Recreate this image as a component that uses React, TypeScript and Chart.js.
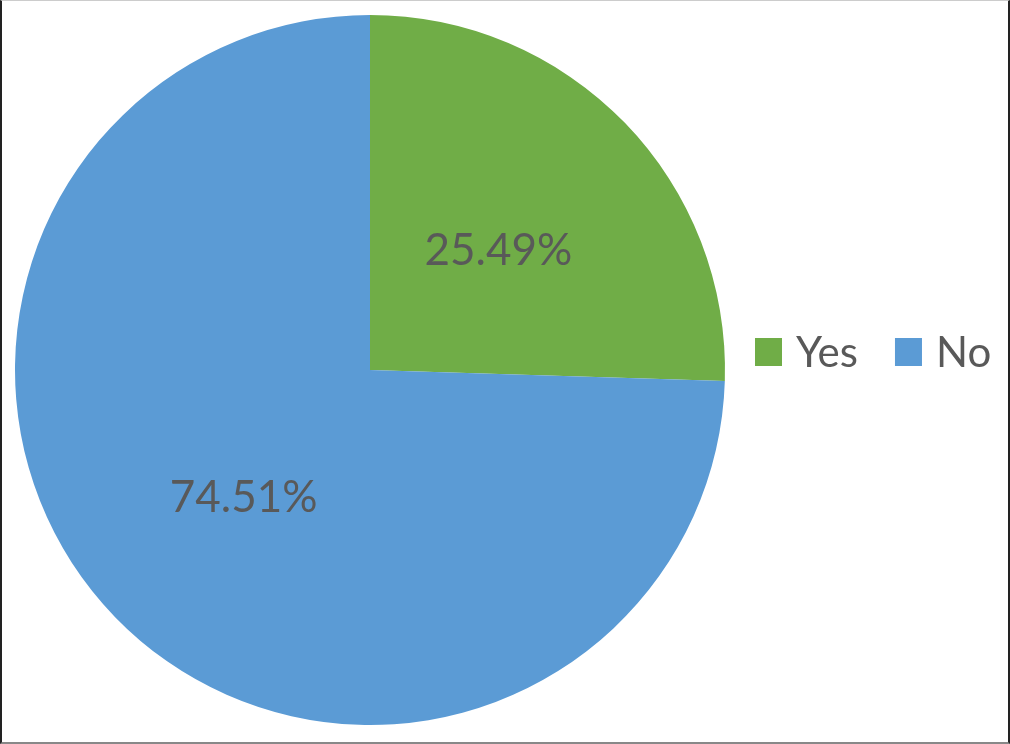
import React, { useEffect, useRef } from "react";
import { Chart, registerables } from "chart.js";

Chart.register(...registerables);

const categories = ["Yes", "No"];
const values = [25.49, 74.51];
const valueLabels = ["25.49%", "74.51%"];
const colors = ["#70AD47", "#5B9BD5"];

const FONT = "Lato, 'Open Sans', sans-serif";

const labelPlugin = {
  id: "sliceLabels",
  afterDatasetsDraw(chart: any) {
    const ctx = chart.ctx;
    const meta = chart.getDatasetMeta(0);
    ctx.save();
    ctx.fillStyle = "#595959";
    ctx.font = `44px ${FONT}`;
    ctx.textAlign = "center";
    ctx.textBaseline = "middle";
    meta.data.forEach((arc: any, i: number) => {
      const p = arc.tooltipPosition();
      ctx.fillText(valueLabels[i], p.x + 1, p.y + 4);
    });
    ctx.restore();
  },
};

const legendPlugin = {
  id: "customLegend",
  afterDraw(chart: any) {
    const ctx = chart.ctx;
    const labels = chart.data.labels as string[];
    const bg = chart.data.datasets[0].backgroundColor as string[];
    const area = chart.chartArea;
    const cy = (area.top + area.bottom) / 2 - 18;
    ctx.save();
    ctx.font = `42px ${FONT}`;
    ctx.textBaseline = "middle";
    ctx.textAlign = "left";
    let x = 755;
    labels.forEach((l, i) => {
      ctx.fillStyle = bg[i];
      ctx.fillRect(x, cy - 14, 27, 28);
      ctx.fillStyle = "#595959";
      ctx.fillText(l, x + 41, cy + 1);
      const w = ctx.measureText(l).width;
      x += 41 + w + 37;
    });
    ctx.restore();
  },
};

export default function App() {
  const ref = useRef<HTMLCanvasElement>(null);
  useEffect(() => {
    if (!ref.current) return;
    const chart = new Chart(ref.current, {
      type: "pie",
      data: {
        labels: categories,
        datasets: [
          {
            data: values,
            backgroundColor: colors,
            borderWidth: 0,
          },
        ],
      },
      options: {
        animation: false,
        responsive: false,
        maintainAspectRatio: false,
        layout: { padding: { left: 15, top: 15, right: 285, bottom: 19 } },
        plugins: {
          legend: { display: false },
          tooltip: { enabled: false },
        },
      },
      plugins: [labelPlugin, legendPlugin],
    });
    return () => chart.destroy();
  }, []);
  return (
    <div
      style={{
        position: "absolute",
        left: 0,
        top: 0,
        width: 1010,
        height: 744,
        background: "#fff",
        overflow: "hidden",
      }}
    >
      <canvas ref={ref} width={1010} height={744} style={{ display: "block" }} />
      <div
        style={{
          position: "absolute",
          inset: 0,
          boxSizing: "border-box",
          borderLeft: "2px solid #222",
          borderRight: "2px solid #222",
          borderTop: "1px solid #ccc",
          borderBottom: "2px solid #888",
          pointerEvents: "none",
        }}
      />
    </div>
  );
}
